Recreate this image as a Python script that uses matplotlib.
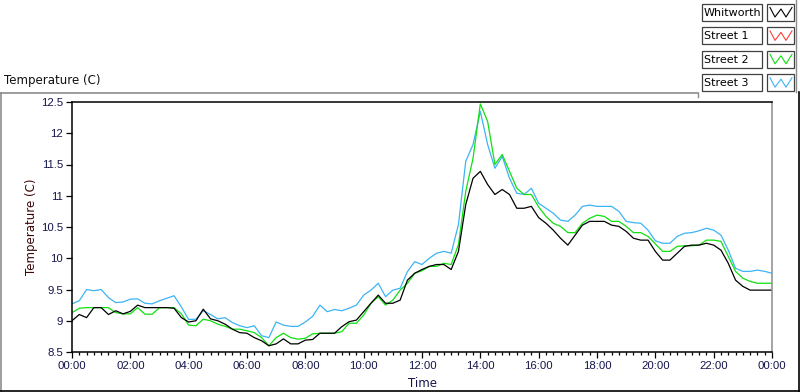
import numpy as np
import matplotlib
matplotlib.use('Agg')
import matplotlib.pyplot as plt
from matplotlib.patches import Rectangle

# readings every 15 min, 00:00 -> 24:00
hours = np.arange(0, 24.01, 0.25)

whitworth = [9.0, 9.1, 9.05, 9.21, 9.21, 9.10, 9.16, 9.11, 9.15, 9.25, 9.21, 9.21, 9.21, 9.21, 9.20, 9.05, 8.98,
             9.0, 9.185, 9.03, 9.0, 8.945, 8.865, 8.81, 8.80, 8.73, 8.68, 8.60, 8.63, 8.71, 8.63, 8.63, 8.69,
             8.7, 8.8, 8.8, 8.8, 8.905, 8.985, 9.01, 9.145, 9.28, 9.41, 9.28, 9.28, 9.33, 9.65, 9.76, 9.82,
             9.87, 9.9, 9.9, 9.82, 10.11, 10.86, 11.28, 11.39, 11.18, 11.02, 11.1, 11.02, 10.8, 10.8, 10.83, 10.65,
             10.56, 10.45, 10.32, 10.21, 10.37, 10.53, 10.59, 10.59, 10.59, 10.53, 10.51, 10.43, 10.32, 10.29, 10.29, 10.11,
             9.97, 9.97, 10.08, 10.19, 10.21, 10.21, 10.24, 10.21, 10.13, 9.92, 9.65, 9.55, 9.49, 9.49, 9.49, 9.49]

street2 = [9.13, 9.2, 9.21, 9.21, 9.21, 9.21, 9.13, 9.11, 9.11, 9.21, 9.105, 9.105, 9.21, 9.21, 9.21, 9.11, 8.93,
           8.92, 9.025, 9.0, 8.945, 8.91, 8.865, 8.865, 8.84, 8.81, 8.73, 8.60, 8.73, 8.80, 8.73, 8.705, 8.72,
           8.79, 8.8, 8.8, 8.8, 8.825, 8.96, 8.96, 9.09, 9.28, 9.385, 9.25, 9.33, 9.49, 9.6, 9.76, 9.8,
           9.87, 9.87, 9.92, 9.9, 10.22, 11.07, 11.6, 12.47, 12.19, 11.5, 11.66, 11.39, 11.12, 11.02, 11.02, 10.82,
           10.67, 10.56, 10.51, 10.41, 10.41, 10.56, 10.64, 10.69, 10.67, 10.59, 10.59, 10.51, 10.41, 10.41, 10.35, 10.23,
           10.11, 10.11, 10.19, 10.2, 10.2, 10.21, 10.29, 10.29, 10.27, 10.03, 9.79, 9.68, 9.63, 9.6, 9.6, 9.6]

street3 = [9.27, 9.32, 9.5, 9.48, 9.5, 9.37, 9.29, 9.30, 9.345, 9.35, 9.28, 9.27, 9.32, 9.36, 9.40, 9.22, 9.02,
           9.025, 9.16, 9.1, 9.03, 9.05, 8.97, 8.92, 8.89, 8.92, 8.76, 8.73, 8.98, 8.93, 8.91, 8.91, 8.98,
           9.07, 9.25, 9.145, 9.18, 9.16, 9.2, 9.25, 9.41, 9.49, 9.6, 9.385, 9.49, 9.52, 9.785, 9.945, 9.9,
           10.0, 10.08, 10.11, 10.08, 10.54, 11.55, 11.82, 12.35, 11.82, 11.44, 11.63, 11.28, 11.04, 11.02, 11.12, 10.88,
           10.8, 10.72, 10.61, 10.59, 10.69, 10.83, 10.85, 10.83, 10.83, 10.83, 10.75, 10.59, 10.57, 10.56, 10.45, 10.28,
           10.24, 10.24, 10.35, 10.4, 10.41, 10.44, 10.48, 10.45, 10.37, 10.13, 9.84, 9.79, 9.79, 9.81, 9.79, 9.76]

names = ['Whitworth', 'Street 1', 'Street 2', 'Street 3']
colors = ['#000000', '#ff3c3c', '#10e010', '#3cb4f5']
x_labels = ['00:00', '02:00', '04:00', '06:00', '08:00', '10:00', '12:00',
            '14:00', '16:00', '18:00', '20:00', '22:00', '00:00']
y_ticks = [8.5, 9, 9.5, 10, 10.5, 11, 11.5, 12, 12.5]
y_labels = ['8.5', '9', '9.5', '10', '10.5', '11', '11.5', '12', '12.5']

TXT = '#14144a'
plt.rcParams['font.family'] = ['DejaVu Sans']

W, H = 800, 392
fig = plt.figure(figsize=(W / 100, H / 100), dpi=100)

# pixel-space overlay for the panel frame and the legend
ov = fig.add_axes([0, 0, 1, 1], zorder=0)
ov.set_xlim(0, W)
ov.set_ylim(H, 0)
ov.axis('off')
g = '#8c8c8c'
ov.plot([0, 698], [92.5, 92.5], color=g, lw=1.2)
ov.plot([1, 1], [92.5, H], color=g, lw=1.2)
ov.plot([0, W], [391.3, 391.3], color='black', lw=1.2)
ov.plot([799.3, 799.3], [92, H], color='black', lw=1.2)
ov.plot([698, 698], [92.5, 97], color=g, lw=1.0)
ov.plot([796, 796], [0, 92], color=g, lw=1.0)
ov.text(4, 80, 'Temperature (C)', fontsize=8.5, color='#101010', va='center', ha='left')

for i, (name, c) in enumerate(zip(names, colors)):
    top = 4 + i * 23.4
    ov.add_patch(Rectangle((702, top), 60, 17, fill=False, ec='#404040', lw=0.9))
    ov.text(704, top + 8.7, name, fontsize=8, color='black', va='center', ha='left')
    ov.add_patch(Rectangle((767, top), 27, 17, fill=False, ec='#404040', lw=0.9))
    ov.plot([770, 775, 781, 786, 792], [top + 3.5, top + 13, top + 5, top + 13, top + 3.5],
            color=c, lw=0.8)

# main plot
ax = fig.add_axes([72 / W, 1 - 352 / H, 700 / W, 250 / H], zorder=1)
ax.plot(hours, street3, color=colors[3], lw=0.9)
ax.plot(hours, street2, color=colors[2], lw=0.9)
ax.plot(hours, whitworth, color=colors[0], lw=0.9)

ax.set_xlim(0, 24)
ax.set_ylim(8.5, 12.5)
ax.set_xticks(np.arange(0, 24.1, 2))
ax.set_xticklabels(x_labels, family='Liberation Sans')
ax.set_xticks(np.arange(0, 24.01, 0.25), minor=True)
ax.set_yticks(y_ticks)
ax.set_yticklabels(y_labels, family='Liberation Sans')
ax.tick_params(axis='both', which='major', direction='out', length=4.5, width=0.9,
               labelsize=8.2, labelcolor=TXT, color='black', pad=2)
ax.tick_params(axis='x', which='minor', direction='out', length=2.5, width=0.9, color='black')
ax.set_xlabel('Time', fontsize=8.5, color=TXT)
ax.xaxis.set_label_coords(0.5, -0.1)
ax.set_ylabel('Temperature (C)', fontsize=8.5, color='#3a0505')
ax.yaxis.set_label_coords(-0.048, 0.5)
for s in ('left', 'bottom', 'top'):
    ax.spines[s].set_color('black')
    ax.spines[s].set_linewidth(1.1)
ax.spines['right'].set_color('#8c8c8c')
ax.spines['right'].set_linewidth(1.1)

fig.savefig('out.png', dpi=100)
